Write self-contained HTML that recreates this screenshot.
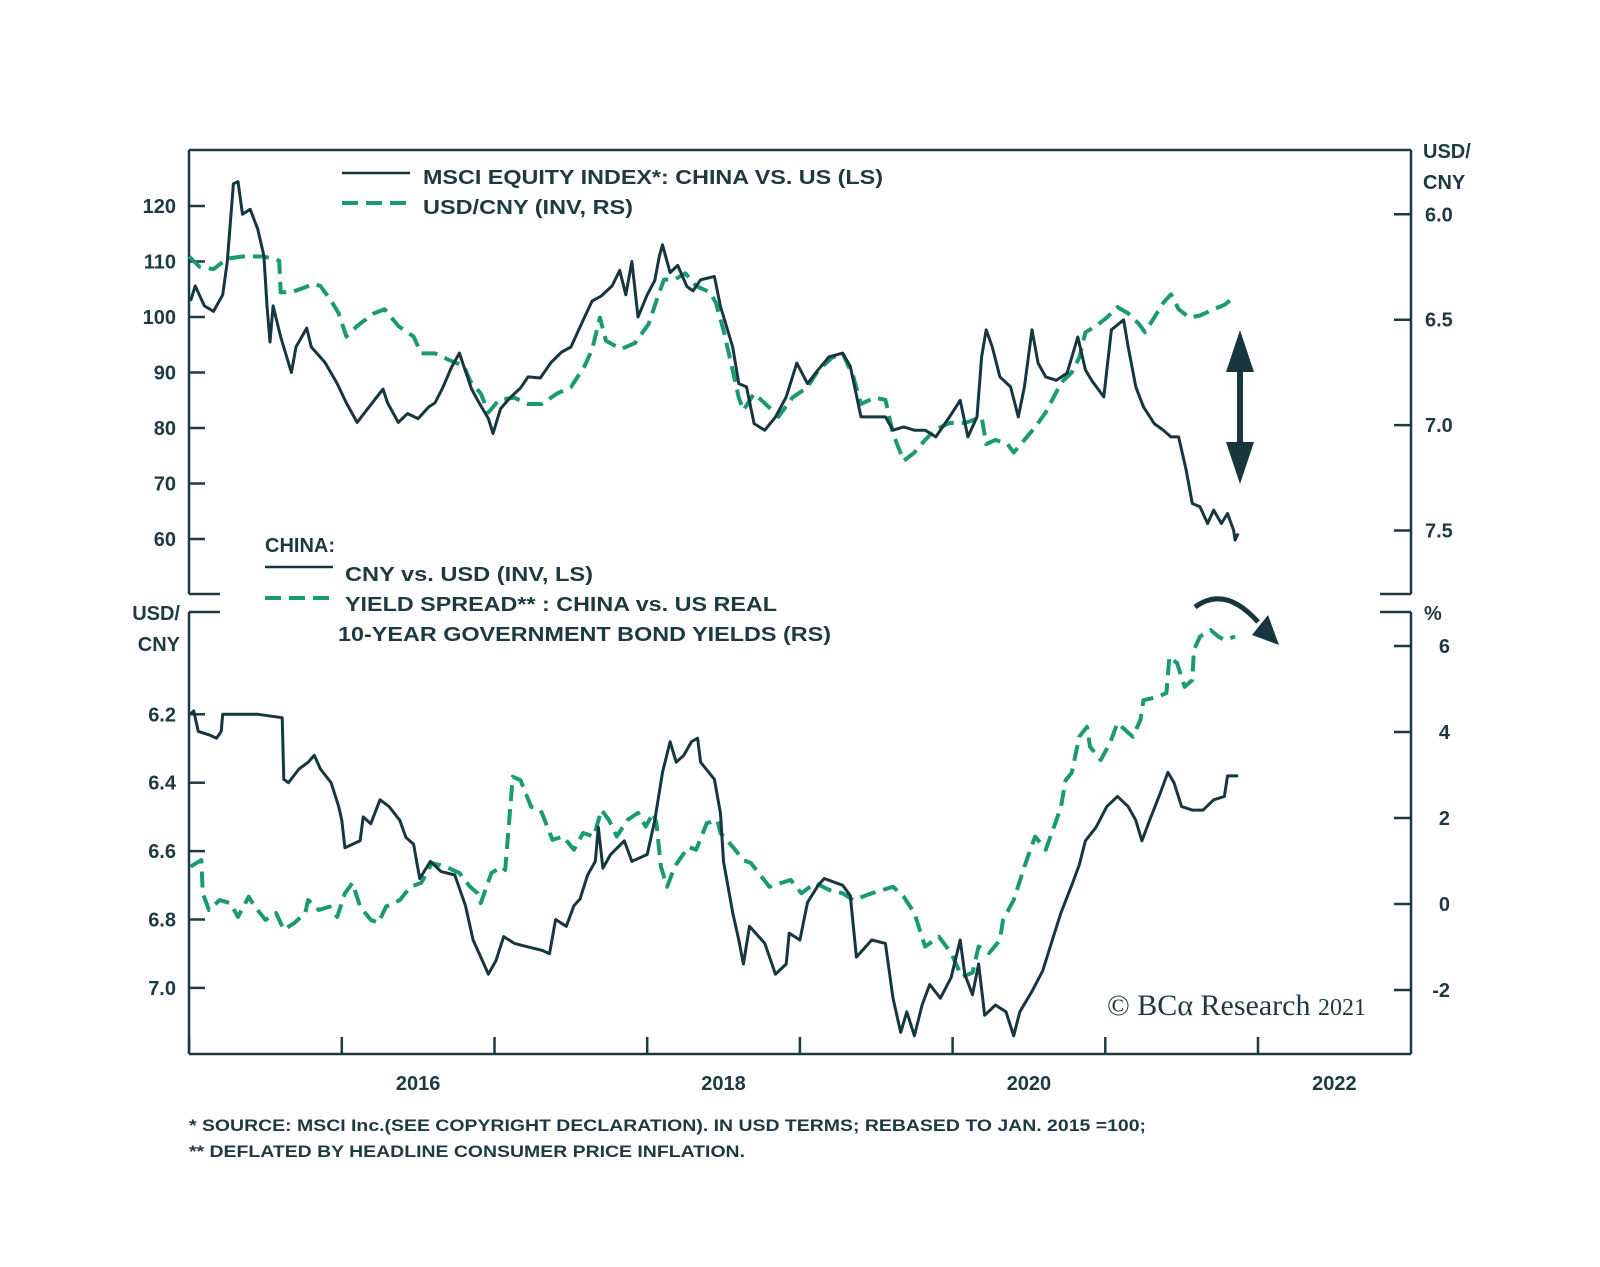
<!DOCTYPE html>
<html><head><meta charset="utf-8"><style>
html,body{margin:0;padding:0;background:#fff;}
svg{display:block;}
text{font-family:"Liberation Sans",Arial,sans-serif;fill:#1d3a40;font-weight:bold;}
</style></head><body>
<svg id="chart" width="1600" height="1267" viewBox="0 0 1600 1267" xmlns="http://www.w3.org/2000/svg">
<g id="frame" stroke="#1d3a40" stroke-width="2.5" fill="none">
  <line x1="189" y1="150" x2="1411" y2="150"/>
  <line x1="189" y1="150" x2="189" y2="594"/>
  <line x1="1411" y1="150" x2="1411" y2="594"/>
  <line x1="189" y1="594" x2="220" y2="594"/>
  <line x1="1380" y1="594" x2="1411" y2="594"/>
  <line x1="189" y1="612" x2="220" y2="612"/>
  <line x1="1380" y1="612" x2="1411" y2="612"/>
  <line x1="189" y1="612" x2="189" y2="1054"/>
  <line x1="1411" y1="612" x2="1411" y2="1054"/>
  <line x1="189" y1="1054" x2="1411" y2="1054"/>
</g>
<g id="ticks" stroke="#1d3a40" stroke-width="2.5"></g>
<g id="labels"></g>
<g id="series"></g>

<g>
  <line x1="342" y1="173" x2="410" y2="173" stroke="#17363d" stroke-width="2.5"/>
  <text x="423" y="184" font-size="20" textLength="460" lengthAdjust="spacingAndGlyphs">MSCI EQUITY INDEX*: CHINA VS. US (LS)</text>
  <line x1="342" y1="203" x2="410" y2="203" stroke="#1a9a73" stroke-width="4" stroke-dasharray="16,8"/>
  <text x="423" y="214" font-size="20" textLength="210" lengthAdjust="spacingAndGlyphs">USD/CNY (INV, RS)</text>
</g>
<g>
  <text x="265" y="552" font-size="20">CHINA:</text>
  <line x1="265" y1="567" x2="333" y2="567" stroke="#17363d" stroke-width="2.5"/>
  <text x="345" y="581" font-size="20" textLength="248" lengthAdjust="spacingAndGlyphs">CNY vs. USD (INV, LS)</text>
  <line x1="265" y1="598" x2="333" y2="598" stroke="#1a9a73" stroke-width="4" stroke-dasharray="16,8"/>
  <text x="345" y="611" font-size="20" textLength="432" lengthAdjust="spacingAndGlyphs">YIELD SPREAD** : CHINA vs. US REAL</text>
  <text x="338" y="641" font-size="20" textLength="493" lengthAdjust="spacingAndGlyphs">10-YEAR GOVERNMENT BOND YIELDS (RS)</text>
</g>

<text x="1423" y="158" font-size="20">USD/</text>
<text x="1423" y="189" font-size="20">CNY</text>
<text x="180" y="620" font-size="20" text-anchor="end">USD/</text>
<text x="180" y="651" font-size="20" text-anchor="end">CNY</text>
<text x="1424" y="620" font-size="20">%</text>

<g fill="#17363d">
  <rect x="1237" y="360" width="6" height="95"/>
  <polygon points="1240,330 1254,372 1226,372"/>
  <polygon points="1240,484 1254,442 1226,442"/>
</g>
<g>
  <path d="M1195,607 Q1225,585 1258,622" fill="none" stroke="#17363d" stroke-width="5"/>
  <polygon points="1279,645 1252,635 1268,615" fill="#17363d"/>
</g>

<text x="1107" y="1015" font-size="30" style="font-family:'Liberation Serif',serif;font-weight:normal">© BCα Research <tspan font-size="24">2021</tspan></text>
<text x="189" y="1131" font-size="17" textLength="957" lengthAdjust="spacingAndGlyphs">*  SOURCE: MSCI Inc.(SEE COPYRIGHT DECLARATION). IN USD TERMS; REBASED TO JAN. 2015 =100;</text>
<text x="189" y="1157" font-size="17" textLength="556" lengthAdjust="spacingAndGlyphs">** DEFLATED BY HEADLINE CONSUMER PRICE INFLATION.</text>
</svg>
<script>
const topEquityDates=[2015.01,2015.04,2015.10,2015.16,2015.22,2015.25,2015.29,2015.32,2015.35,2015.40,2015.45,2015.49,2015.51,2015.53,2015.55,2015.60,2015.67,2015.70,2015.77,2015.80,2015.89,2015.97,2016.03,2016.10,2016.17,2016.27,2016.30,2016.37,2016.43,2016.50,2016.57,2016.61,2016.66,2016.72,2016.77,2016.80,2016.85,2016.90,2016.96,2016.99,2017.04,2017.10,2017.17,2017.22,2017.30,2017.37,2017.44,2017.50,2017.59,2017.64,2017.70,2017.77,2017.82,2017.86,2017.90,2017.94,2018.00,2018.05,2018.08,2018.10,2018.15,2018.20,2018.26,2018.30,2018.35,2018.44,2018.48,2018.56,2018.60,2018.65,2018.70,2018.77,2018.84,2018.91,2018.98,2019.05,2019.12,2019.19,2019.28,2019.33,2019.40,2019.47,2019.56,2019.61,2019.68,2019.75,2019.82,2019.89,2019.98,2020.05,2020.10,2020.16,2020.19,2020.22,2020.26,2020.31,2020.38,2020.43,2020.47,2020.52,2020.56,2020.61,2020.68,2020.75,2020.82,2020.87,2020.91,2020.99,2021.04,2021.12,2021.15,2021.20,2021.25,2021.32,2021.38,2021.43,2021.48,2021.53,2021.57,2021.62,2021.67,2021.71,2021.76,2021.80,2021.84,2021.85,2021.87];
const topEquity=[102.9,105.6,102,101,104,110,124,124.4,118.5,119.4,115.8,111,102,95.5,102,96.4,90,94.6,98,94.6,91.8,88,84.5,81,83.5,87,84.5,81,82.6,81.7,83.8,84.5,87.2,91,93.5,91,87,84.5,81.7,79,83.5,85.4,87.2,89.2,89,91.8,93.7,94.6,100,102.9,103.8,105.6,108.4,104,110,100,104,106.6,111,113,108,109.3,105.5,104.7,106.7,107.3,101.9,94.6,88,87.4,80.8,79.6,82,85.6,91.7,88,90.5,92.8,93.5,91.1,82,82,82,79.6,80.2,79.6,79.6,78.4,82,85,78.4,82,92.8,97.7,94.6,89.2,87.4,82,87.4,97.7,91.7,89.2,88.6,89.9,96.4,90.5,88.6,85.6,97.7,99.5,94.6,87.4,83.8,80.8,79.6,78.4,78.4,72.4,66.4,65.8,62.8,65.2,62.8,64.6,61.6,59.8,61];
const topCnyDates=[2015.00,2015.07,2015.16,2015.25,2015.35,2015.49,2015.59,2015.60,2015.67,2015.82,2015.86,2015.93,2015.98,2016.03,2016.10,2016.21,2016.28,2016.37,2016.47,2016.52,2016.61,2016.70,2016.80,2016.84,2016.91,2016.96,2017.03,2017.13,2017.22,2017.31,2017.41,2017.50,2017.59,2017.64,2017.69,2017.73,2017.83,2017.92,2018.01,2018.06,2018.11,2018.18,2018.25,2018.32,2018.41,2018.45,2018.50,2018.56,2018.60,2018.63,2018.70,2018.79,2018.86,2018.95,2019.05,2019.12,2019.21,2019.28,2019.35,2019.40,2019.49,2019.56,2019.61,2019.68,2019.75,2019.82,2019.89,2019.98,2020.08,2020.12,2020.19,2020.22,2020.28,2020.36,2020.40,2020.47,2020.54,2020.61,2020.66,2020.71,2020.78,2020.83,2020.87,2020.94,2021.01,2021.08,2021.15,2021.22,2021.26,2021.32,2021.38,2021.43,2021.48,2021.55,2021.62,2021.71,2021.78,2021.85];
const topCny=[6.20,6.25,6.26,6.21,6.20,6.20,6.22,6.37,6.37,6.33,6.34,6.41,6.47,6.58,6.53,6.47,6.45,6.53,6.58,6.66,6.66,6.69,6.72,6.79,6.85,6.94,6.88,6.87,6.90,6.90,6.85,6.82,6.72,6.64,6.49,6.60,6.64,6.61,6.52,6.41,6.31,6.31,6.28,6.34,6.37,6.42,6.55,6.74,6.87,6.93,6.85,6.91,6.96,6.87,6.82,6.74,6.68,6.66,6.77,6.90,6.87,6.88,7.04,7.17,7.13,7.07,7.02,6.99,6.99,6.98,6.96,7.09,7.07,7.09,7.13,7.07,7.01,6.94,6.87,6.80,6.75,6.68,6.56,6.53,6.49,6.44,6.47,6.52,6.56,6.49,6.42,6.38,6.45,6.49,6.48,6.45,6.43,6.39];
const botCnyDates=[2015.01,2015.03,2015.06,2015.13,2015.18,2015.21,2015.22,2015.33,2015.45,2015.61,2015.62,2015.65,2015.72,2015.78,2015.82,2015.86,2015.93,2015.98,2016.00,2016.02,2016.12,2016.14,2016.19,2016.25,2016.31,2016.38,2016.42,2016.47,2016.51,2016.58,2016.65,2016.74,2016.81,2016.86,2016.91,2016.96,2017.01,2017.06,2017.13,2017.22,2017.31,2017.36,2017.40,2017.47,2017.52,2017.56,2017.61,2017.66,2017.68,2017.71,2017.76,2017.85,2017.90,2017.95,2018.00,2018.05,2018.10,2018.15,2018.19,2018.24,2018.29,2018.33,2018.35,2018.44,2018.48,2018.50,2018.56,2018.60,2018.63,2018.67,2018.77,2018.84,2018.91,2018.93,2019.00,2019.05,2019.12,2019.16,2019.28,2019.33,2019.37,2019.47,2019.56,2019.61,2019.66,2019.70,2019.75,2019.80,2019.85,2019.92,2019.99,2020.05,2020.08,2020.13,2020.17,2020.21,2020.28,2020.35,2020.40,2020.44,2020.52,2020.59,2020.66,2020.71,2020.78,2020.83,2020.87,2020.94,2021.01,2021.08,2021.15,2021.20,2021.24,2021.29,2021.36,2021.41,2021.45,2021.50,2021.57,2021.64,2021.71,2021.78,2021.80,2021.87];
const botCny=[6.20,6.19,6.25,6.26,6.27,6.25,6.20,6.20,6.20,6.21,6.39,6.40,6.36,6.34,6.32,6.36,6.40,6.47,6.51,6.59,6.57,6.50,6.52,6.45,6.47,6.51,6.56,6.58,6.68,6.63,6.66,6.67,6.76,6.86,6.91,6.96,6.92,6.85,6.87,6.88,6.89,6.90,6.80,6.82,6.76,6.74,6.67,6.63,6.53,6.65,6.61,6.57,6.63,6.62,6.61,6.51,6.37,6.28,6.34,6.32,6.28,6.27,6.34,6.39,6.49,6.63,6.78,6.86,6.93,6.82,6.87,6.96,6.93,6.84,6.86,6.75,6.70,6.68,6.70,6.73,6.91,6.86,6.87,7.03,7.13,7.07,7.14,7.05,6.99,7.03,6.97,6.86,6.96,7.02,6.93,7.08,7.05,7.07,7.14,7.07,7.01,6.95,6.85,6.78,6.70,6.64,6.57,6.53,6.47,6.44,6.47,6.51,6.57,6.51,6.43,6.37,6.40,6.47,6.48,6.48,6.45,6.44,6.38,6.38];
const botSpreadDates=[2015.01,2015.08,2015.09,2015.13,2015.20,2015.27,2015.32,2015.39,2015.43,2015.50,2015.57,2015.62,2015.69,2015.76,2015.78,2015.85,2015.92,2015.97,2016.02,2016.07,2016.12,2016.19,2016.24,2016.29,2016.38,2016.45,2016.52,2016.59,2016.68,2016.77,2016.84,2016.89,2016.91,2016.98,2017.05,2017.07,2017.12,2017.17,2017.24,2017.30,2017.31,2017.38,2017.45,2017.52,2017.58,2017.65,2017.70,2017.75,2017.80,2017.87,2017.94,2017.99,2018.04,2018.06,2018.09,2018.13,2018.18,2018.27,2018.32,2018.39,2018.46,2018.48,2018.56,2018.63,2018.68,2018.80,2018.94,2019.01,2019.10,2019.19,2019.28,2019.35,2019.47,2019.61,2019.68,2019.75,2019.82,2019.91,2019.99,2020.06,2020.13,2020.17,2020.24,2020.31,2020.33,2020.40,2020.47,2020.54,2020.61,2020.68,2020.71,2020.74,2020.78,2020.83,2020.88,2020.90,2020.97,2021.03,2021.08,2021.18,2021.23,2021.25,2021.35,2021.40,2021.42,2021.47,2021.52,2021.57,2021.58,2021.62,2021.69,2021.74,2021.78,2021.85];
const botSpread=[0.87,1.02,0.25,-0.14,0.09,0.02,-0.30,0.17,-0.06,-0.37,-0.21,-0.60,-0.44,-0.21,0.09,-0.14,-0.06,-0.30,0.25,0.49,-0.06,-0.37,-0.44,-0.06,0.09,0.40,0.49,0.95,0.87,0.72,0.40,0.25,0.02,0.72,0.87,0.79,2.96,2.88,2.26,2.19,2.12,1.49,1.57,1.26,1.65,1.57,2.19,1.95,1.57,1.95,2.12,1.80,2.12,1.88,0.87,0.40,0.87,1.33,1.26,1.88,1.95,1.65,1.33,1.02,0.95,0.40,0.56,0.25,0.49,0.33,0.25,0.09,0.25,0.40,0.17,-0.21,-0.99,-0.76,-1.14,-1.69,-1.60,-0.99,-1.14,-0.84,-0.37,0.09,0.87,1.57,1.26,1.95,2.26,2.88,3.05,3.89,4.12,3.66,3.35,3.74,4.21,3.89,4.28,4.74,4.82,4.91,5.75,5.60,5.05,5.21,5.91,6.22,6.37,6.22,6.14,6.22];

const topLeftTicks=[60,70,80,90,100,110,120];
const topRightTicks=[6.0,6.5,7.0,7.5];
const botLeftTicks=[6.2,6.4,6.6,6.8,7.0];
const botRightTicks=[6,4,2,0,-2];
const yearTicks=[2015,2016,2017,2018,2019,2020,2021,2022];
const yearLabels=[2016,2018,2020,2022];

const NS="http://www.w3.org/2000/svg";
const xs=t=>341.8+(t-2016)*152.7;
const topL=v=>206+(120-v)*5.55;
const topR=v=>214.3+(v-6)*210.8;
const botL=v=>714.3+(v-6.2)*342;
const botR=v=>646+(6-v)*43;

function mk(tag,attrs,parent){const e=document.createElementNS(NS,tag);for(const k in attrs)e.setAttribute(k,attrs[k]);parent.appendChild(e);return e;}
const ticks=document.getElementById('ticks');
const labels=document.getElementById('labels');
const series=document.getElementById('series');

topLeftTicks.forEach(v=>{
  const l=mk('line',{x1:189,x2:205,y1:topL(v),y2:topL(v)},ticks);
  
  
  const t=mk('text',{x:176,y:topL(v)+7,'font-size':20,'text-anchor':'end'},labels);
  t.textContent=v;
  
  
});
topRightTicks.forEach(v=>{
  const l=mk('line',{x1:1394,x2:1411,y1:topR(v),y2:topR(v)},ticks);
  
  
  const t=mk('text',{x:1425,y:topR(v)+7,'font-size':20},labels);
  t.textContent=v.toFixed(1);
  
  
});
botLeftTicks.forEach(v=>{
  const l=mk('line',{x1:189,x2:205,y1:botL(v),y2:botL(v)},ticks);
  
  
  const t=mk('text',{x:176,y:botL(v)+7,'font-size':20,'text-anchor':'end'},labels);
  t.textContent=v.toFixed(1);
  
  
});
botRightTicks.forEach(v=>{
  const l=mk('line',{x1:1394,x2:1411,y1:botR(v),y2:botR(v)},ticks);
  
  
  const t=mk('text',{x:1450,y:botR(v)+7,'font-size':20,'text-anchor':'end'},labels);
  t.textContent=v;
  
  
});
yearTicks.forEach(y=>{
  const l=mk('line',{x1:xs(y),x2:xs(y),y1:1037,y2:1054},ticks);
  
  
});
yearLabels.forEach(y=>{
  const t=mk('text',{x:xs(y+0.5),y:1090,'font-size':20,'text-anchor':'middle'},labels);
  t.textContent=y;
  
  
});

function line(dates,vals,yf,color,w,dash){
  const d=dates.map((t,i)=>(i?'L':'M')+xs(t).toFixed(1)+','+yf(vals[i]).toFixed(1)).join('');
  const p=mk('path',{d:d,fill:'none',stroke:color,'stroke-width':w,'stroke-linejoin':'round'},series);
  if(dash)p.setAttribute('stroke-dasharray',dash);
  return p;
}
const p1=line(topCnyDates,topCny,topR,'#1a9a73',4,'16,8');


const p2=line(topEquityDates,topEquity,topL,'#17363d',3,null);


const p3=line(botSpreadDates,botSpread,botR,'#1a9a73',4,'16,8');


const p4=line(botCnyDates,botCny,botL,'#17363d',3,null);


</script>
</body></html>
